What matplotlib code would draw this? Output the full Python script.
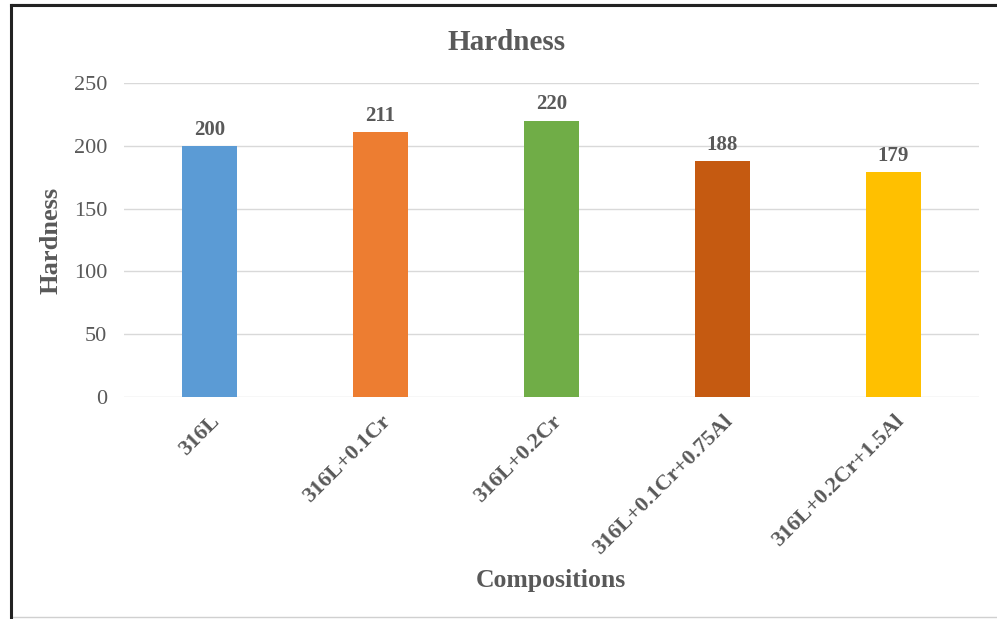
import matplotlib.pyplot as plt
from matplotlib.patches import Rectangle

compositions = ["316L", "316L+0.1Cr", "316L+0.2Cr", "316L+0.1Cr+0.75Al", "316L+0.2Cr+1.5Al"]
hardness = [200, 211, 220, 188, 179]
colors = ["#5B9BD5", "#ED7D31", "#70AD47", "#C55A11", "#FFC000"]

plt.rcParams['font.family'] = ['Liberation Serif', 'DejaVu Serif']
grey = "#595959"

fig = plt.figure(figsize=(9.97, 6.19), dpi=100)
ax = fig.add_axes([0.1244, 0.3586, 0.8576, 0.5073])

x = range(len(compositions))
bars = ax.bar(x, hardness, width=0.32, color=colors, zorder=3)

for xi, v in zip(x, hardness):
    ax.text(xi, v + 5, str(v), ha='center', va='bottom', fontsize=15,
            fontweight='bold', color=grey)

ax.set_xlim(-0.5, len(compositions) - 0.5)
ax.set_ylim(0, 250)
ax.set_yticks(range(0, 251, 50))
ax.grid(axis='y', color='#D9D9D9', linewidth=1, zorder=0)
for s in ax.spines.values():
    s.set_visible(False)
ax.tick_params(axis='both', length=0)
ax.tick_params(axis='y', labelsize=16, labelcolor=grey, pad=12)

ax.set_xticks(list(x))
ax.set_xticklabels(compositions, rotation=45, ha='right', rotation_mode='anchor',
                   fontsize=16, fontweight='bold', color=grey)
ax.tick_params(axis='x', pad=10)

ax.set_ylabel("Hardness", fontsize=19, fontweight='bold', color=grey)
ax.yaxis.set_label_coords(-0.072, 0.5)
fig.text(0.553, 0.062, "Compositions", ha='center', va='center', fontsize=18.5,
         fontweight='bold', color=grey)
fig.text(0.508, 0.932, "Hardness", ha='center', va='center', fontsize=21,
         fontweight='bold', color=grey)

# outer chart frame
fig.patches.append(Rectangle((10.5 / 997, 2 / 619), 1.2, 1 - 6 / 619,
                             transform=fig.transFigure, fill=False,
                             edgecolor='#D0D0D0', linewidth=1))
fig.add_artist(plt.Line2D([10.5 / 997, 10.5 / 997], [0, 1 - 4.5 / 619],
                          transform=fig.transFigure, color='#222222', linewidth=2.2))
fig.add_artist(plt.Line2D([10.5 / 997, 1], [1 - 4.5 / 619, 1 - 4.5 / 619],
                          transform=fig.transFigure, color='#222222', linewidth=2.2))

fig.savefig("out.png", dpi=100)
